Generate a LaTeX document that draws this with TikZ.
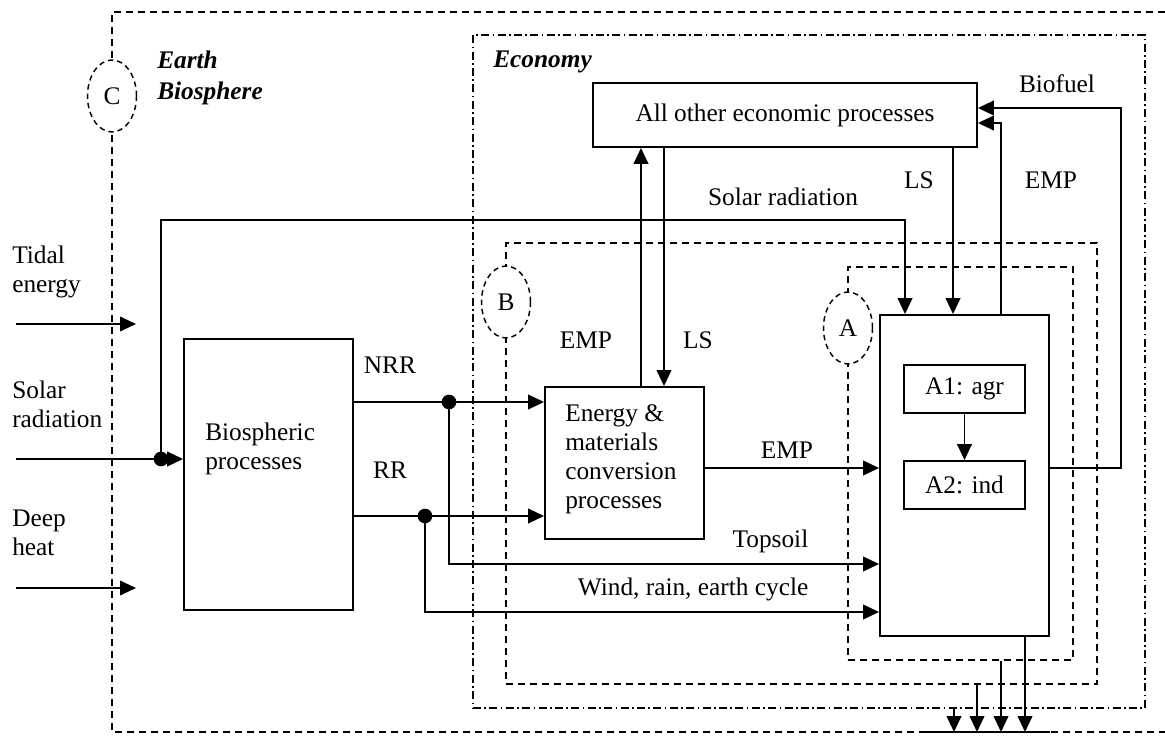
\documentclass[tikz,border=0pt]{standalone}
\usepackage{fontspec}
\setmainfont{Liberation Serif}
\usepackage{tikz}
\usetikzlibrary{arrows.meta,shapes.geometric}

\tikzset{
  box/.style={draw, line width=1.4pt, inner sep=0pt},
  line/.style={line width=1.4pt},
  flow/.style={line width=1.4pt, -{Triangle[length=12pt,width=11pt]}},
  bound/.style={line width=1.3pt, dash pattern=on 5.5pt off 3.5pt},
  region/.style={draw, line width=1.3pt, dash pattern=on 5.5pt off 3.5pt, inner sep=0pt},
  econ/.style={draw, line width=1.3pt, dash pattern=on 6pt off 2.5pt on 1.3pt off 2.5pt, inner sep=0pt},
  tag/.style={ellipse, draw, fill=white, line width=1.1pt, dash pattern=on 4pt off 3pt,
    minimum width=36.75pt, minimum height=54pt, inner sep=0pt},
  lbl/.style={inner sep=0pt, align=left},
}

\begin{document}
\begin{tikzpicture}[x=0.75pt,y=-0.75pt,font=\fontsize{19}{21.75}\selectfont]
\useasboundingbox (0,0) rectangle (1165,753);

% system boundaries
\draw[bound] (1165,12) -| (112,732) -- (1165,732);
\node[econ, minimum width=504pt, minimum height=504.75pt] (economy) at (809,371.5) {};
\node[region, minimum width=443.25pt, minimum height=330.75pt] (regb) at (801.5,463.5) {};
\node[region, minimum width=168.75pt, minimum height=294.75pt] (rega) at (960.5,463.5) {};
\coordinate (ground) at (925,732);
\draw[line] (ground) -- (1050,732);

\node[tag] (tagc) at (112,96) {C};
\node[tag] (tagb) at (506,302) {B};
\node[tag] (taga) at (848,328) {A};
\node[lbl, anchor=west, font=\fontsize{19}{23}\selectfont\bfseries\itshape] (earth) at (157,78) {Earth\\Biosphere};
\node[lbl, anchor=west, font=\fontsize{19}{21.75}\selectfont\bfseries\itshape] (econlbl) at (493,62) {Economy};

% processes
\node[box, minimum width=126.75pt, minimum height=203.25pt] (bio) at (268.5,474.5) {};
\node[lbl, anchor=west] (biotxt) at (205,449) {Biospheric\\processes};
\node[box, minimum width=119.25pt, minimum height=114pt] (emc) at (624.5,463) {};
\node[lbl, anchor=west] (emctxt) at (565,459) {Energy \&\\materials\\conversion\\processes};
\node[box, minimum width=288pt, minimum height=48pt] (other) at (785,115) {All other economic processes};
\node[box, minimum width=126.75pt, minimum height=240.75pt] (abox) at (964.5,475.5) {};
\node[box, minimum width=90.75pt, minimum height=36pt] (aone) at (964.5,389) {A1: agr};
\node[box, minimum width=90.75pt, minimum height=36pt] (atwo) at (964.5,485) {A2: ind};

% inputs
\coordinate (tidin) at (16,324);
\coordinate (deepin) at (16,588);
\coordinate (solin) at (16,459);
\coordinate (soldot) at (161,459);
\coordinate (solturn) at (905,220);
\node[lbl, anchor=west] (tidal) at (12,272) {Tidal\\energy};
\node[lbl, anchor=west] (solar) at (12,404) {Solar\\radiation};
\node[lbl, anchor=west] (deep) at (12,533) {Deep\\heat};
\draw[flow] (tidin) -- (136,324);
\draw[flow] (deepin) -- (136,588);
\draw[flow] (solin) -- (bio.west |- solin);
\draw[flow] (soldot) |- (solturn) -- (abox.north -| solturn);
\fill (soldot) circle[radius=5.5pt];

% resources
\coordinate (nrrdot) at (449,402);
\coordinate (rrdot) at (425,516);
\coordinate (topsoil) at (449,564);
\coordinate (wind) at (425,612);
\draw[flow] (bio.east |- nrrdot) -- (emc.west |- nrrdot);
\draw[flow] (bio.east |- rrdot) -- (emc.west |- rrdot);
\draw[flow] (nrrdot) -- (topsoil) -- (abox.west |- topsoil);
\draw[flow] (rrdot) -- (wind) -- (abox.west |- wind);
\fill (nrrdot) circle[radius=5.5pt];
\fill (rrdot) circle[radius=5.5pt];

% economy flows
\coordinate (empup) at (1001,123);
\coordinate (biofuel) at (1121,108);
\draw[flow] (emc.east |- 0,468) -- (abox.west |- 0,468);
\draw[flow] (emc.north -| 641,0) -- (other.south -| 641,0);
\draw[flow] (other.south -| 664,0) -- (emc.north -| 664,0);
\draw[flow] (other.south -| 953,0) -- (abox.north -| 953,0);
\draw[flow] (abox.north -| empup) |- (other.east |- empup);
\draw[flow] (abox.east |- 0,468) -| (biofuel) -- (other.east |- biofuel);
\draw[flow] (aone) -- (atwo);

% dissipation
\draw[flow] (economy.south -| 954,0) -- (954,0 |- ground);
\draw[flow] (regb.south -| 977,0) -- (977,0 |- ground);
\draw[flow] (rega.south -| 1001,0) -- (1001,0 |- ground);
\draw[flow] (abox.south -| 1025,0) -- (1025,0 |- ground);

% labels
\node (nrr) at (390,365) {NRR};
\node (rr) at (390,470) {RR};
\node (empl) at (586,340) {EMP};
\node (lsl) at (698,340) {LS};
\node (empm) at (787,450) {EMP};
\node[anchor=east] (topl) at (813,541) {Topsoil};
\node[anchor=east] (windl) at (813,589) {Wind, rain, earth cycle};
\node (solrad) at (783,197) {Solar radiation};
\node (lsr) at (919,180) {LS};
\node (empr) at (1051,180) {EMP};
\node (biol) at (1057,84) {Biofuel};
\end{tikzpicture}
\end{document}
